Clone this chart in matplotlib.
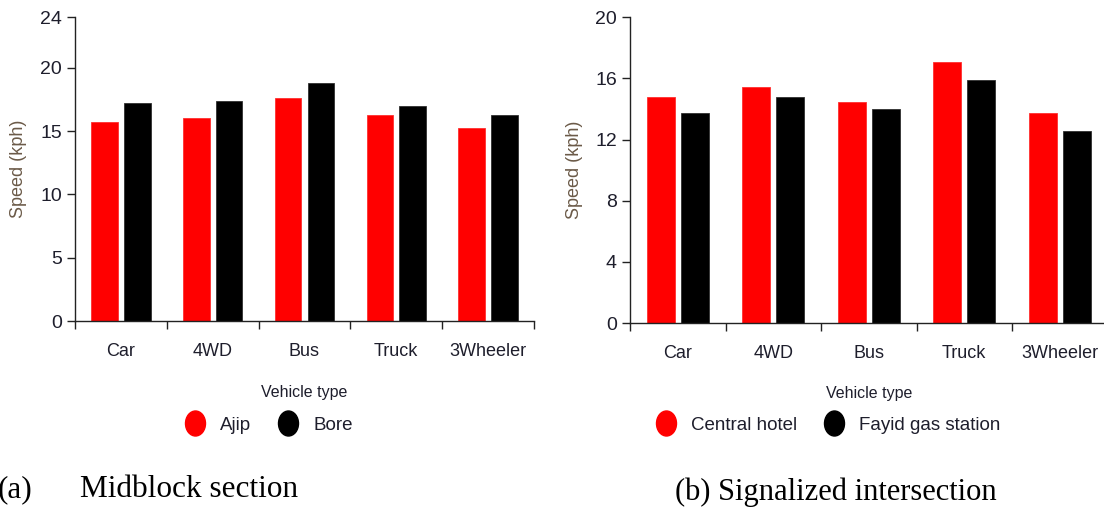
import matplotlib
matplotlib.use("Agg")
import matplotlib.pyplot as plt
import numpy as np
from matplotlib.lines import Line2D
from matplotlib.path import Path
from matplotlib.transforms import Affine2D

# Average speeds (kph) by vehicle type
vehicles = ['Car', '4WD', 'Bus', 'Truck', '3Wheeler']

ajip = [15.75, 16.05, 17.65, 16.3, 15.25]
bore = [17.25, 17.4, 18.8, 17.0, 16.3]

central_hotel = [14.8, 15.45, 14.45, 17.1, 13.75]
fayid_gas = [13.75, 14.8, 14.0, 15.9, 12.55]

left_ticks = [0, 5, 10, 15, 20, 24]
right_ticks = [0, 4, 8, 12, 16, 20]

sans = ['Liberation Sans', 'DejaVu Sans']
serif = ['Liberation Serif', 'DejaVu Serif']
ink = '#1e1e2c'

# Tall oval used as the legend marker
oval = Path.unit_circle().transformed(Affine2D().scale(0.8, 1.0))

fig = plt.figure(figsize=(11.04, 5.14), dpi=100)


def speed_panel(rect, first, second, names, ymax, yticks, leg_x, label_y):
    ax = fig.add_axes(rect)
    x = np.arange(len(vehicles))
    w = 0.29
    ax.bar(x - 0.178, first, w, color='#ff0000', edgecolor='#ff3030', linewidth=0.6)
    ax.bar(x + 0.178, second, w, color='#000000', edgecolor='#303030', linewidth=0.6)

    ax.set_xlim(-0.5, len(vehicles) - 0.5)
    ax.set_ylim(0, ymax)
    ax.set_yticks(yticks)
    ax.set_yticklabels([str(t) for t in yticks], family=sans, fontsize=14, color=ink)

    # group boundaries carry the tick marks, names sit between them
    ax.set_xticks(np.arange(-0.5, len(vehicles), 1.0))
    ax.set_xticklabels([])
    ax.set_xticks(x, minor=True)
    ax.set_xticklabels(vehicles, minor=True, family=sans, fontsize=13, color=ink)
    ax.tick_params(axis='x', which='major', direction='out', length=6, width=1.0, color='#222222')
    ax.tick_params(axis='x', which='minor', length=0, pad=16)
    ax.tick_params(axis='y', direction='out', length=5.5, width=1.0, color='#222222', pad=4)

    for side in ['top', 'right']:
        ax.spines[side].set_visible(False)
    for side in ['left', 'bottom']:
        ax.spines[side].set_linewidth(1.0)
        ax.spines[side].set_color('#222222')

    ax.set_ylabel('Speed (kph)', family=sans, fontsize=13, color='#6b5a48', labelpad=9)
    ax.set_xlabel('Vehicle type', family=sans, fontsize=11.5, color=ink, va='center')
    ax.xaxis.set_label_coords(0.5, label_y)

    handles = [Line2D([], [], linestyle='none', marker=oval, markersize=18,
                      markerfacecolor=c, markeredgecolor=c)
               for c in ['#ff0000', '#000000']]
    fig.legend(handles, names, loc='center left',
               bbox_to_anchor=(leg_x / 1104, 1 - 425 / 514),
               ncol=2, frameon=False, prop={'family': sans, 'size': 13.5},
               handlelength=1.0, handletextpad=0.83, columnspacing=1.47,
               borderpad=0, borderaxespad=0, labelcolor=ink)
    return ax


speed_panel([75 / 1104, 193 / 514, 459 / 1104, 303.7 / 514],
            ajip, bore, ['Ajip', 'Bore'], 24, left_ticks, 186, -0.237)
speed_panel([630 / 1104, 191 / 514, 477.5 / 1104, 305.7 / 514],
            central_hotel, fayid_gas, ['Central hotel', 'Fayid gas station'], 20, right_ticks,
            657, -0.229)

# Panel captions
fig.text(-2 / 1104, 1 - 497 / 514, '(a)', family=serif, fontsize=22.5, va='baseline')
fig.text(80 / 1104, 1 - 497 / 514, 'Midblock section', family=serif, fontsize=22.5, va='baseline')
fig.text(675 / 1104, 1 - 500 / 514, '(b) Signalized intersection', family=serif, fontsize=22,
         va='baseline')

fig.savefig('out.png', dpi=100)
